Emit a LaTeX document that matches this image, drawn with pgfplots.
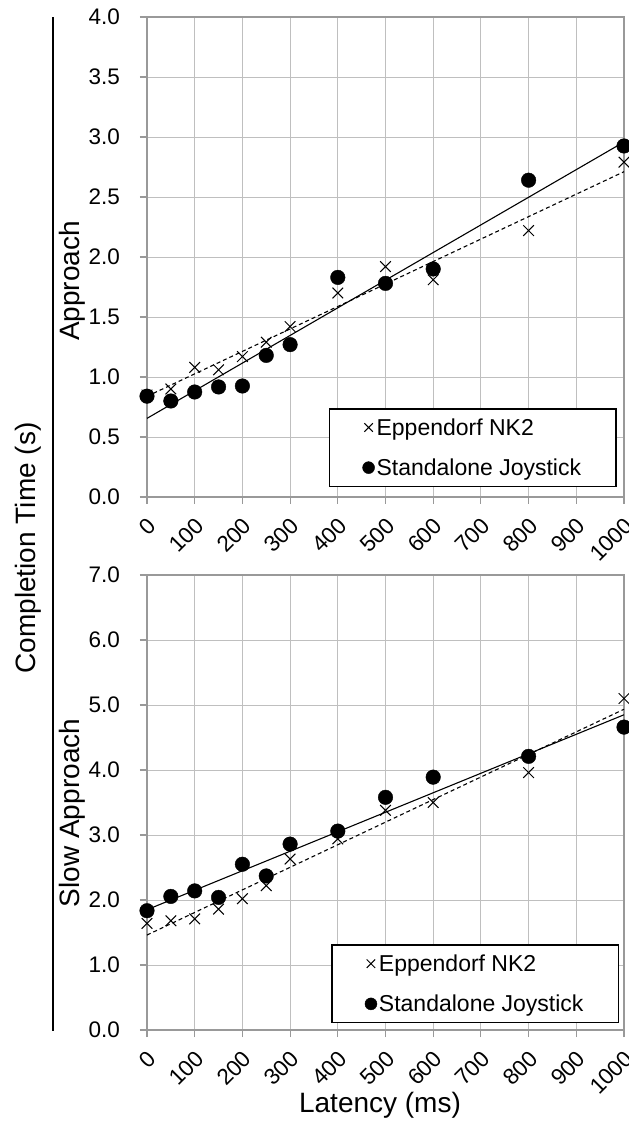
\documentclass[border=0pt]{standalone}
\usepackage{fontspec}
\setmainfont{Liberation Sans}
\usepackage{pgfplots}
\usepackage{pgfplotstable}
\pgfplotsset{compat=1.18}

\pgfplotstableread{
x E J
0 0.85 0.84
50 0.90 0.80
100 1.08 0.875
150 1.06 0.917
200 1.17 0.925
250 1.29 1.18
300 1.42 1.27
400 1.70 1.83
500 1.92 1.78
600 1.81 1.90
800 2.22 2.64
1000 2.79 2.925
}\topdata

\pgfplotstableread{
x E J
0 1.64 1.835
50 1.68 2.055
100 1.71 2.14
150 1.86 2.04
200 2.02 2.55
250 2.22 2.37
300 2.63 2.86
400 2.94 3.06
500 3.38 3.58
600 3.50 3.89
800 3.96 4.21
1000 5.10 4.66
}\botdata

\newcommand{\tickfont}{\fontsize{22.5}{25}\selectfont}
\pgfplotsset{
  mystyle/.style={
    scale only axis, width=477pt,
    xmin=0, xmax=1000, xtick={0,100,...,1000},
    clip=false,
    grid=major, grid style={draw=black!25, line width=0.9pt},
    axis line style={draw=black!40, line width=1.1pt},
    tick style={draw=black!40, line width=1.1pt},
    tick align=outside, major tick length=7pt,
    tick pos=left,
    xticklabel={\tickfont\pgfmathprintnumber[assume math mode=true,1000 sep={}]{\tick}},
    yticklabel={\tickfont\pgfmathprintnumber[assume math mode=true,fixed,fixed zerofill,precision=1]{\tick}},
    xticklabel style={rotate=45, anchor=north east, inner sep=2pt, xshift=-7pt, yshift=-6pt},
    yticklabel style={anchor=east, inner sep=0pt, xshift=-20pt},
    ylabel style={font=\fontsize{28}{30}\selectfont, anchor=center},
    legend style={anchor=south east, draw=black, line width=1.4pt,
      font=\fontsize{23}{26}\selectfont, inner xsep=33pt, inner ysep=7.5pt,
      row sep=18pt, cells={anchor=west}},
    legend image code/.code={\draw[#1, mark repeat=1, mark size=6pt] plot coordinates {(0pt,0pt)};},
  },
  crossst/.style={black, only marks, mark=x, mark size=7.5pt, mark options={line width=1pt}},
  dotst/.style={black, only marks, mark=*, mark size=7.3pt, mark options={line width=0.4pt}},
  trendJ/.style={black, line width=1.1pt, no marks, forget plot},
  trendE/.style={black, line width=1.1pt, no marks, dash pattern=on 4pt off 3pt, forget plot},
}

\begin{document}
\begin{tikzpicture}
\useasboundingbox (0,0) rectangle (629pt,1128pt);

\begin{axis}[mystyle, at={(147pt,631pt)}, anchor=south west, height=480pt,
  ymin=0, ymax=4, ytick={0,0.5,1,1.5,2,2.5,3,3.5,4},
  ylabel={Approach}, ylabel style={at={(axis description cs:-0.156,0.45)}},
  legend style={at={(0.985,0.021)}}]
\addplot[trendE] table[x=x, y={create col/linear regression={y=E}}] {\topdata};
\addplot[trendJ] table[x=x, y={create col/linear regression={y=J}}] {\topdata};
\addplot[crossst] table[x=x, y=E] {\topdata};
\addlegendentry{Eppendorf NK2}
\addplot[dotst] table[x=x, y=J] {\topdata};
\addlegendentry{Standalone Joystick}
\end{axis}

\begin{axis}[mystyle, at={(147pt,98pt)}, anchor=south west, height=455pt,
  ymin=0, ymax=7, ytick={0,1,2,3,4,5,6,7},
  ylabel={Slow Approach}, ylabel style={at={(axis description cs:-0.156,0.477)}},
  legend style={at={(0.99,0.015)}}]
\addplot[trendE] table[x=x, y={create col/linear regression={y=E}}] {\botdata};
\addplot[trendJ] table[x=x, y={create col/linear regression={y=J}}] {\botdata};
\addplot[crossst] table[x=x, y=E] {\botdata};
\addlegendentry{Eppendorf NK2}
\addplot[dotst] table[x=x, y=J] {\botdata};
\addlegendentry{Standalone Joystick}
\end{axis}

\node[rotate=90, font=\fontsize{28}{30}\selectfont] at (28pt,580pt) {Completion Time (s)};
\draw[line width=1.5pt] (53pt,97pt) -- (53pt,1111pt);
\node[font=\fontsize{28}{30}\selectfont] at (380pt,23pt) {Latency (ms)};
\end{tikzpicture}
\end{document}
